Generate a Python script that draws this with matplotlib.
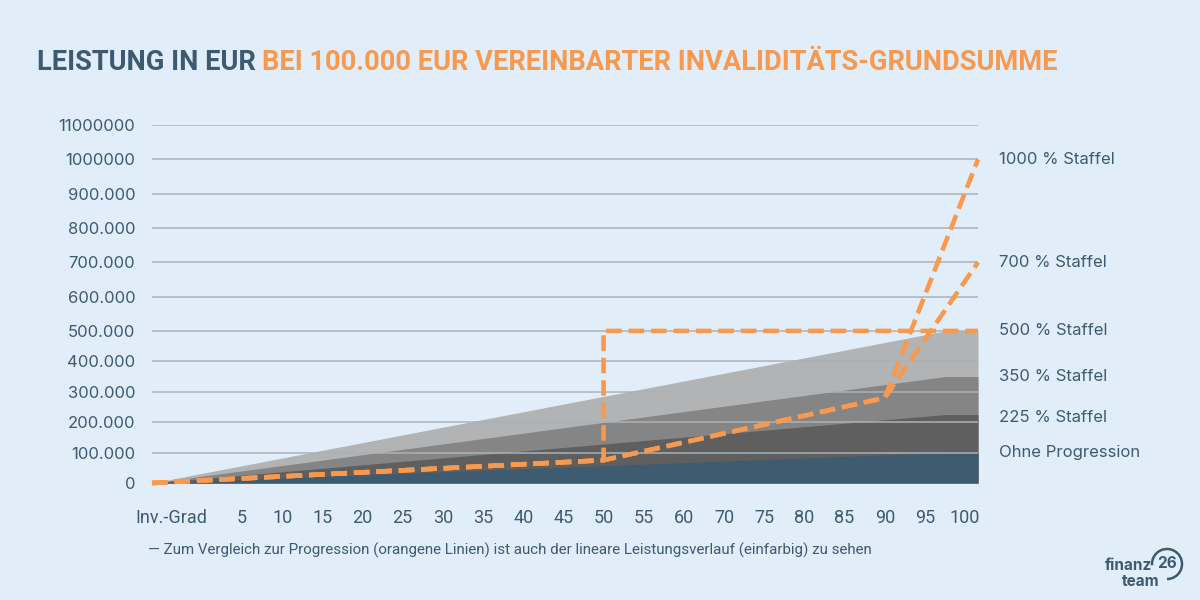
import matplotlib.pyplot as plt
import numpy as np
from matplotlib import transforms
from matplotlib.patches import Arc

# Kategorien der x-Achse (Invaliditätsgrad in %)
grad_labels = ["Inv.-Grad", "5", "10", "15", "20", "25", "30", "35", "40", "45",
               "50", "55", "60", "70", "75", "80", "85", "90", "95", "100"]

# y-Achse (Beschriftung wie im Original)
y_ticks = [0, 100000, 200000, 300000, 400000, 500000, 600000,
           700000, 800000, 900000, 1000000, 1100000]
y_labels = ["0", "100.000", "200.000", "300.000", "400.000", "500.000", "600.000",
            "700.000", "800.000", "900.000", "1000000", "11000000"]

# lineare Leistung (einfarbig), Endwert bei 100 % Invalidität
area_names = ["500 % Staffel", "350 % Staffel", "225 % Staffel", "Ohne Progression"]
area_max = [500000, 350000, 225000, 100000]
area_colors = ["#b1b3b5", "#858585", "#5f5f5f", "#3e5b70"]

# Progression (orange Linien)
prog_grad = [0, 50, 90, 100]
staffel_700 = [0, 75000, 280000, 700000]
staffel_1000 = [0, 75000, 280000, 1000000]
staffel_500_grad = [0, 50, 50, 100]
staffel_500 = [0, 75000, 500000, 500000]

# Beschriftung rechts
side_names = ["1000 % Staffel", "700 % Staffel", "500 % Staffel",
              "350 % Staffel", "225 % Staffel", "Ohne Progression"]
side_values = [1000000, 700000, 500000, 350000, 215000, 100000]

BG = "#e1eefa"
DARK = "#3e5a70"
ORANGE = "#f7994f"

x_left, x_right = -1.24, 19.32
knot_grad = [0] + [int(g) for g in grad_labels[1:-1]] + [100]
knot_pos = [x_left] + list(range(1, len(grad_labels) - 1)) + [x_right]


def gpos(g):
    return np.interp(g, knot_grad, knot_pos)


# oberhalb von 500.000 stehen die Gitterlinien etwas weiter auseinander
K = 34.3 / 30.4


def fwd(y):
    y = np.asarray(y, dtype=float)
    return np.where(y <= 5e5, y, 5e5 + (y - 5e5) * K)


def inv(t):
    t = np.asarray(t, dtype=float)
    return np.where(t <= 5e5, t, 5e5 + (t - 5e5) / K)


fig = plt.figure(figsize=(12, 6), dpi=100, facecolor=BG)
ax = fig.add_axes([152 / 1200, 117 / 600, 826 / 1200, 358 / 600])
ax.set_facecolor(BG)
ax.set_yscale("function", functions=(fwd, inv))
ax.set_xlim(x_left, x_right)
ax.set_ylim(0, 1100000)

ramp_end = grad_labels.index("95") + 0.5
area_x = [x_left, ramp_end, x_right]
for top, col in zip(area_max, area_colors):
    ax.fill_between(area_x, 0, [0, top, top], color=col, lw=0, zorder=1)

ax.hlines(y_ticks[1:], x_left, x_right, color="#a9b2ba", lw=1.1, zorder=2)

line_kw = dict(color=ORANGE, lw=3.3, dashes=(3.4, 1.5), dash_capstyle="butt",
               solid_joinstyle="miter", zorder=3, clip_on=False)
ax.plot(gpos(staffel_500_grad), staffel_500, **line_kw)
ax.plot(gpos(prog_grad), staffel_700, **line_kw)
ax.plot(gpos(prog_grad), staffel_1000, **line_kw)

for s in ax.spines.values():
    s.set_visible(False)

ax.set_yticks(y_ticks)
ax.set_yticklabels(y_labels)
ax.set_xticks(range(len(grad_labels)))
ax.set_xticklabels(grad_labels)
ax.tick_params(axis="both", length=0)
ax.tick_params(axis="y", pad=12, labelcolor=DARK, labelsize=12)
ax.tick_params(axis="x", pad=19, labelcolor=DARK, labelsize=13)
for t in ax.get_yticklabels():
    t.set_fontfamily(["Inter", "DejaVu Sans"])
for t in ax.get_xticklabels():
    t.set_fontfamily(["Roboto", "DejaVu Sans"])
first = ax.get_xticklabels()[0]
first.set_horizontalalignment("right")
first.set_transform(first.get_transform()
                    + transforms.ScaledTranslation(0.05, 0, fig.dpi_scale_trans))

for name, val in zip(side_names, side_values):
    ax.annotate(name, xy=(1, val), xycoords=("axes fraction", "data"),
                xytext=(15, 0), textcoords="offset points", va="center", ha="left",
                fontsize=12, color=DARK, family=["Inter", "DejaVu Sans"])

# Titel in zwei Farben
title_kw = dict(fontsize=19.6, fontweight="bold", va="baseline",
                family=["Roboto", "DejaVu Sans"])
t1 = fig.text(37 / 1200, 1 - 70 / 600, "LEISTUNG IN EUR ", color=DARK, **title_kw)
fig.canvas.draw()
bb = t1.get_window_extent()
fig.text(bb.x1 / fig.bbox.width, 1 - 70 / 600,
         "BEI 100.000 EUR VEREINBARTER INVALIDITÄTS-GRUNDSUMME",
         color=ORANGE, **title_kw)

fig.text(148 / 1200, 1 - 550 / 600,
         "— Zum Vergleich zur Progression (orangene Linien) ist auch der lineare "
         "Leistungsverlauf (einfarbig) zu sehen",
         fontsize=10.9, color=DARK, va="center", family=["Roboto", "DejaVu Sans"])

# Logo
fig.text(1152 / 1200, 1 - 566 / 600, "finanz", fontsize=11, fontweight="bold",
         color=DARK, ha="right", va="center", family=["Inter", "DejaVu Sans"])
fig.text(1160 / 1200, 1 - 582 / 600, "team", fontsize=11, fontweight="bold",
         color=DARK, ha="right", va="center", family=["Inter", "DejaVu Sans"])
fig.text(1167 / 1200, 1 - 564 / 600, "26", fontsize=11, fontweight="bold",
         color=DARK, ha="center", va="center", family=["Inter", "DejaVu Sans"])
fig.patches.append(Arc((1167 / 1200, 1 - 564 / 600), 30 / 1200, 30 / 600,
                       theta1=-90, theta2=190, color=DARK, lw=1.8,
                       transform=fig.transFigure, figure=fig))

fig.savefig("out.png", dpi=100, facecolor=BG)
